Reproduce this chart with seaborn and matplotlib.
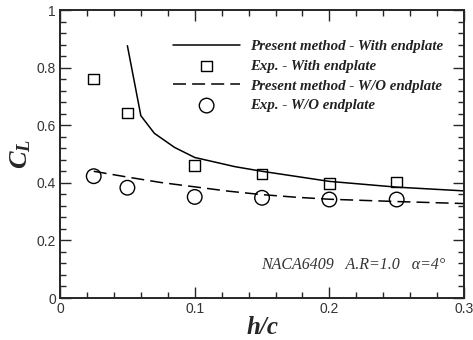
import matplotlib
matplotlib.use("Agg")
import matplotlib.pyplot as plt
import seaborn as sns
import pandas as pd
from matplotlib.ticker import MultipleLocator, FuncFormatter

# present method, with endplate (solid)
hc_with = [0.05, 0.06, 0.07, 0.085, 0.1, 0.13, 0.15, 0.2, 0.25, 0.3]
cl_with = [0.876, 0.633, 0.572, 0.523, 0.488, 0.456, 0.44, 0.405, 0.385, 0.372]

# present method, without endplate (dashed)
hc_wo = [0.025, 0.05, 0.075, 0.1, 0.125, 0.15, 0.175, 0.2, 0.25, 0.3]
cl_wo = [0.44, 0.42, 0.401, 0.386, 0.371, 0.359, 0.35, 0.343, 0.335, 0.328]

# experiment
hc_exp = [0.025, 0.05, 0.1, 0.15, 0.2, 0.25]
cl_exp_with = [0.761, 0.643, 0.46, 0.43, 0.398, 0.403]
cl_exp_wo = [0.423, 0.383, 0.351, 0.348, 0.342, 0.342]

sns.set_style("ticks")
plt.rcParams["mathtext.fontset"] = "custom"
plt.rcParams["mathtext.it"] = "Liberation Serif:italic:bold"
plt.rcParams["mathtext.rm"] = "Liberation Serif:bold"

fig = plt.figure(figsize=(4.73, 3.40), dpi=100)
ax = fig.add_axes([0.127, 0.1235, 0.854, 0.847])

sns.lineplot(x=hc_with, y=cl_with, ax=ax, color="black", lw=1.1,
             label="Present method - With endplate")
sns.scatterplot(x=hc_exp, y=cl_exp_with, ax=ax, marker="s", s=58,
                facecolor="none", edgecolor="black", linewidth=1.0,
                label="Exp. - With endplate")
sns.lineplot(x=hc_wo, y=cl_wo, ax=ax, color="black", lw=1.1,
             linestyle=(0, (8.5, 4)), label="Present method - W/O endplate")
sns.scatterplot(x=hc_exp, y=cl_exp_wo, ax=ax, marker="o", s=110,
                facecolor="none", edgecolor="black", linewidth=1.0,
                label="Exp. - W/O endplate")

ax.set_xlim(0, 0.3)
ax.set_ylim(0, 1)
ax.xaxis.set_major_locator(MultipleLocator(0.1))
ax.xaxis.set_minor_locator(MultipleLocator(0.02))
ax.yaxis.set_major_locator(MultipleLocator(0.2))
ax.yaxis.set_minor_locator(MultipleLocator(0.04))
fmt = FuncFormatter(lambda v, p: "0" if abs(v) < 1e-9 else ("1" if abs(v - 1) < 1e-9 else f"{v:g}"))
ax.xaxis.set_major_formatter(fmt)
ax.yaxis.set_major_formatter(fmt)
ax.tick_params(which="both", direction="in", top=True, right=True, width=1.0,
               labelsize=10, labelcolor="#333333", pad=3)
ax.tick_params(which="major", length=8)
ax.tick_params(which="minor", length=4)
for s in ax.spines.values():
    s.set_linewidth(1.4)
    s.set_visible(True)
for lab in ax.get_xticklabels() + ax.get_yticklabels():
    lab.set_family("Liberation Sans")

ax.set_xlabel("h/c", family="Liberation Serif", style="italic", weight="bold",
              fontsize=18, labelpad=0)
ax.set_ylabel(r"$C_L$", fontsize=19, labelpad=2)

ax.text(0.955, 0.115, "NACA6409   A.R=1.0   \u03b1=4\u00b0", transform=ax.transAxes,
        ha="right", va="center", family="Liberation Serif", style="italic",
        fontsize=11.5, color="#333333")

leg = ax.legend(loc="upper left", bbox_to_anchor=(0.28, 0.897), frameon=False,
                prop={"family": "Liberation Serif", "style": "italic",
                      "weight": "bold", "size": 10.7},
                handlelength=4.5, handletextpad=0.7, labelspacing=0.43,
                borderpad=0, borderaxespad=0, scatterpoints=1)
for t in leg.get_texts():
    t.set_color("#222222")

fig.savefig("out.png", dpi=100)
